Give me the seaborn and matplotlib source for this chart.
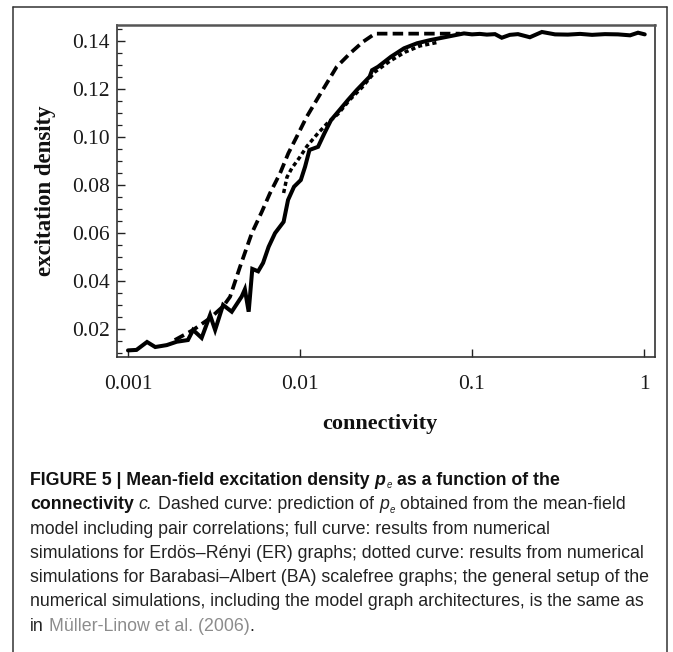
import matplotlib
matplotlib.use("Agg")
import numpy as np
import pandas as pd
import matplotlib.pyplot as plt
import seaborn as sns
from matplotlib.ticker import FixedLocator, FixedFormatter, MultipleLocator, NullLocator
from matplotlib import font_manager
from matplotlib.lines import Line2D

# ---------------- data ----------------
mf_c = [0.00187, 0.00239, 0.00300, 0.00358, 0.00392, 0.00448, 0.00524, 0.00600,
        0.00669, 0.00766, 0.00855, 0.00957, 0.01094, 0.01250, 0.01429, 0.01634,
        0.01954, 0.02323, 0.0273, 0.085]
mf_pe = [0.0154, 0.0196, 0.0245, 0.0295, 0.0334, 0.0459, 0.0598, 0.0688,
         0.0765, 0.0848, 0.0931, 0.1000, 0.1083, 0.1153, 0.1222, 0.1291,
         0.1347, 0.1395, 0.1429, 0.1429]

er_c = [0.00100, 0.00112, 0.00129, 0.00144, 0.00168, 0.00192, 0.00223, 0.00239,
        0.00268, 0.00300, 0.00321, 0.00357, 0.00401, 0.00458, 0.00478, 0.00503,
        0.00528, 0.00571, 0.00610, 0.00657, 0.00716, 0.00803, 0.00852, 0.00923,
        0.01011, 0.01070, 0.01135, 0.01273, 0.01388, 0.01514, 0.01697, 0.01901,
        0.02136, 0.02541, 0.02624, 0.02840, 0.03380, 0.04025, 0.04791, 0.05698,
        0.07158, 0.08985, 0.100, 0.111, 0.122, 0.136, 0.149, 0.166, 0.185, 0.217,
        0.255, 0.304, 0.361, 0.425, 0.499, 0.593, 0.706, 0.830, 0.923, 1.01]
er_pe = [0.0111, 0.0113, 0.0146, 0.0125, 0.0133, 0.0147, 0.0154, 0.0196,
         0.0163, 0.0258, 0.0196, 0.0300, 0.0272, 0.0335, 0.0365, 0.0272,
         0.0450, 0.0440, 0.0475, 0.0542, 0.0599, 0.0646, 0.0737, 0.0792,
         0.0820, 0.0875, 0.0945, 0.0958, 0.1015, 0.1069, 0.1111, 0.1153,
         0.1194, 0.1250, 0.1277, 0.1291, 0.1333, 0.1368, 0.1389, 0.1402,
         0.1416, 0.1430, 0.1426, 0.1428, 0.1425, 0.1427, 0.1412, 0.1424, 0.1427, 0.1414,
         0.1436, 0.1426, 0.1425, 0.1428, 0.1424, 0.1427, 0.1426, 0.1422, 0.1433, 0.1426]

ba_c = [0.00803, 0.00840, 0.00898, 0.01000, 0.01099, 0.01256, 0.01436, 0.01664,
        0.01954, 0.02292, 0.02729, 0.03336, 0.04077, 0.04984, 0.06339]
ba_pe = [0.0766, 0.0832, 0.0870, 0.0916, 0.0961, 0.1010, 0.1055, 0.1095,
         0.1155, 0.1205, 0.1270, 0.1315, 0.1352, 0.1378, 0.1393]

x_ticks = [0.001, 0.01, 0.1, 1]
x_ticklabels = ["0.001", "0.01", "0.1", "1"]
y_ticks = [0.02, 0.04, 0.06, 0.08, 0.10, 0.12, 0.14]
y_ticklabels = ["0.02", "0.04", "0.06", "0.08", "0.10", "0.12", "0.14"]

# ---------------- style ----------------
sns.set_theme(style="white")
plt.rcParams["font.family"] = ["Liberation Serif", "DejaVu Serif"]

W, H = 673, 652
fig = plt.figure(figsize=(W / 100, H / 100), dpi=100)
fig.patch.set_facecolor("white")


def fx(px):
    return px / W


def fy(py):
    return 1 - py / H


ax = fig.add_axes([fx(117), fy(357), (655 - 117) / W, (357 - 25) / H])
ax.set_facecolor("white")

df_er = pd.DataFrame({"c": er_c, "pe": er_pe})
df_ba = pd.DataFrame({"c": ba_c, "pe": ba_pe})
df_mf = pd.DataFrame({"c": mf_c, "pe": mf_pe})

sns.lineplot(data=df_er, x="c", y="pe", ax=ax, color="black", linewidth=2.9,
             estimator=None, sort=False, solid_joinstyle="miter")
sns.lineplot(data=df_ba, x="c", y="pe", ax=ax, color="black", linewidth=2.5,
             estimator=None, sort=False, linestyle=(0, (1.2, 0.9)),
             dash_capstyle="butt")
sns.lineplot(data=df_mf, x="c", y="pe", ax=ax, color="black", linewidth=2.7,
             estimator=None, sort=False, linestyle=(0, (2.8, 1.4)),
             dash_capstyle="butt")

ax.set_xscale("log")
ax.set_xlim(10 ** -3.064, 10 ** 0.064)
ax.set_ylim(0.00835, 0.1465)

ax.xaxis.set_major_locator(FixedLocator(x_ticks))
ax.xaxis.set_major_formatter(FixedFormatter(x_ticklabels))
ax.xaxis.set_minor_locator(NullLocator())
ax.yaxis.set_major_locator(FixedLocator(y_ticks))
ax.yaxis.set_major_formatter(FixedFormatter(y_ticklabels))
ax.yaxis.set_minor_locator(MultipleLocator(0.005))

ax.tick_params(which="both", direction="in", top=False, right=False,
               left=True, bottom=True, color="#222222", labelcolor="#1a1a1a",
               labelsize=15.5)
ax.tick_params(which="major", length=6, width=1.0)
ax.tick_params(which="minor", length=3.5, width=0.9)
ax.tick_params(axis="x", which="major", pad=13)
ax.tick_params(axis="y", which="major", pad=5)

for name, sp in ax.spines.items():
    sp.set_visible(True)
    sp.set_color("#333333")
    sp.set_linewidth(1.2)
ax.spines["top"].set_color("#555555")
ax.spines["top"].set_linewidth(1.8)

ax.set_xlabel("connectivity", fontsize=16, fontweight="bold", color="#111111",
              va="center")
ax.xaxis.set_label_coords((380 - 117) / 538, -(424 - 357) / 332)
ax.set_ylabel("excitation density", fontsize=16.5, fontweight="bold",
              color="#111111", va="center")
ax.yaxis.set_label_coords((46 - 117) / 538, 0.5)

# ---------------- outer frame ----------------
for xs, ys in [([13, 13], [7, 652]), ([667, 667], [7, 652]), ([13, 667], [7, 7])]:
    fig.add_artist(Line2D([fx(v) for v in xs], [fy(v) for v in ys],
                          transform=fig.transFigure, color="#333333", lw=1.1))

# ---------------- caption ----------------
names = {f.name for f in font_manager.fontManager.ttflist}
cap_family = "Liberation Sans Narrow" if "Liberation Sans Narrow" in names else "Liberation Sans"

renderer = fig.canvas.get_renderer()

styles = {
    "b": dict(fontweight="bold", fontstyle="normal", color="#111111"),
    "bi": dict(fontweight="bold", fontstyle="italic", color="#111111"),
    "i": dict(fontweight="normal", fontstyle="italic", color="#222222"),
    "r": dict(fontweight="normal", fontstyle="normal", color="#222222"),
    "g": dict(fontweight="normal", fontstyle="normal", color="#8c8c8c"),
    "sub": dict(fontweight="normal", fontstyle="italic", color="#222222"),
}

caption_lines = [
    [("FIGURE 5 | Mean-field excitation density", "b"), (" p", "bi"), ("e", "sub"),
     (" as a function of the", "b")],
    [("connectivity", "b"), (" c.", "i"), (" Dashed curve: prediction of", "r"),
     (" p", "i"), ("e", "sub"), (" obtained from the mean-field", "r")],
    [("model including pair correlations; full curve: results from numerical", "r")],
    [("simulations for Erdös–Rényi (ER) graphs; dotted curve: results from numerical", "r")],
    [("simulations for Barabasi–Albert (BA) scalefree graphs; the general setup of the", "r")],
    [("numerical simulations, including the model graph architectures, is the same as", "r")],
    [("in", "r"), (" Müller-Linow et al. (2006)", "g"), (".", "r")],
]


def text_width(s, fs, style):
    t = fig.text(0, 0, s, fontsize=fs, family=cap_family, **styles[style])
    w = t.get_window_extent(renderer).width
    t.remove()
    return w


base = 13.0
w4 = text_width(caption_lines[3][0][0], base, "r")
cap_fs = base * 612.0 / w4


def space_width(fs, style):
    return text_width("n n", fs, style) - text_width("nn", fs, style)


x0 = 30
baseline0 = 485
spacing = 24.3
for i, line in enumerate(caption_lines):
    yb = baseline0 + i * spacing
    x = x0
    for s, st in line:
        fs = cap_fs
        y = yb
        if st == "sub":
            fs = cap_fs * 0.55
            y = yb + 3.5
        if s.startswith(" "):
            x += space_width(cap_fs, "r" if st != "b" else "b")
            s = s.lstrip(" ")
        t = fig.text(fx(x), fy(y), s, fontsize=fs, family=cap_family,
                     ha="left", va="baseline", **styles[st])
        x = t.get_window_extent(renderer).x1 + (1 if st in ("bi", "i") else 0)

fig.savefig("out.png", dpi=100, facecolor="white")
